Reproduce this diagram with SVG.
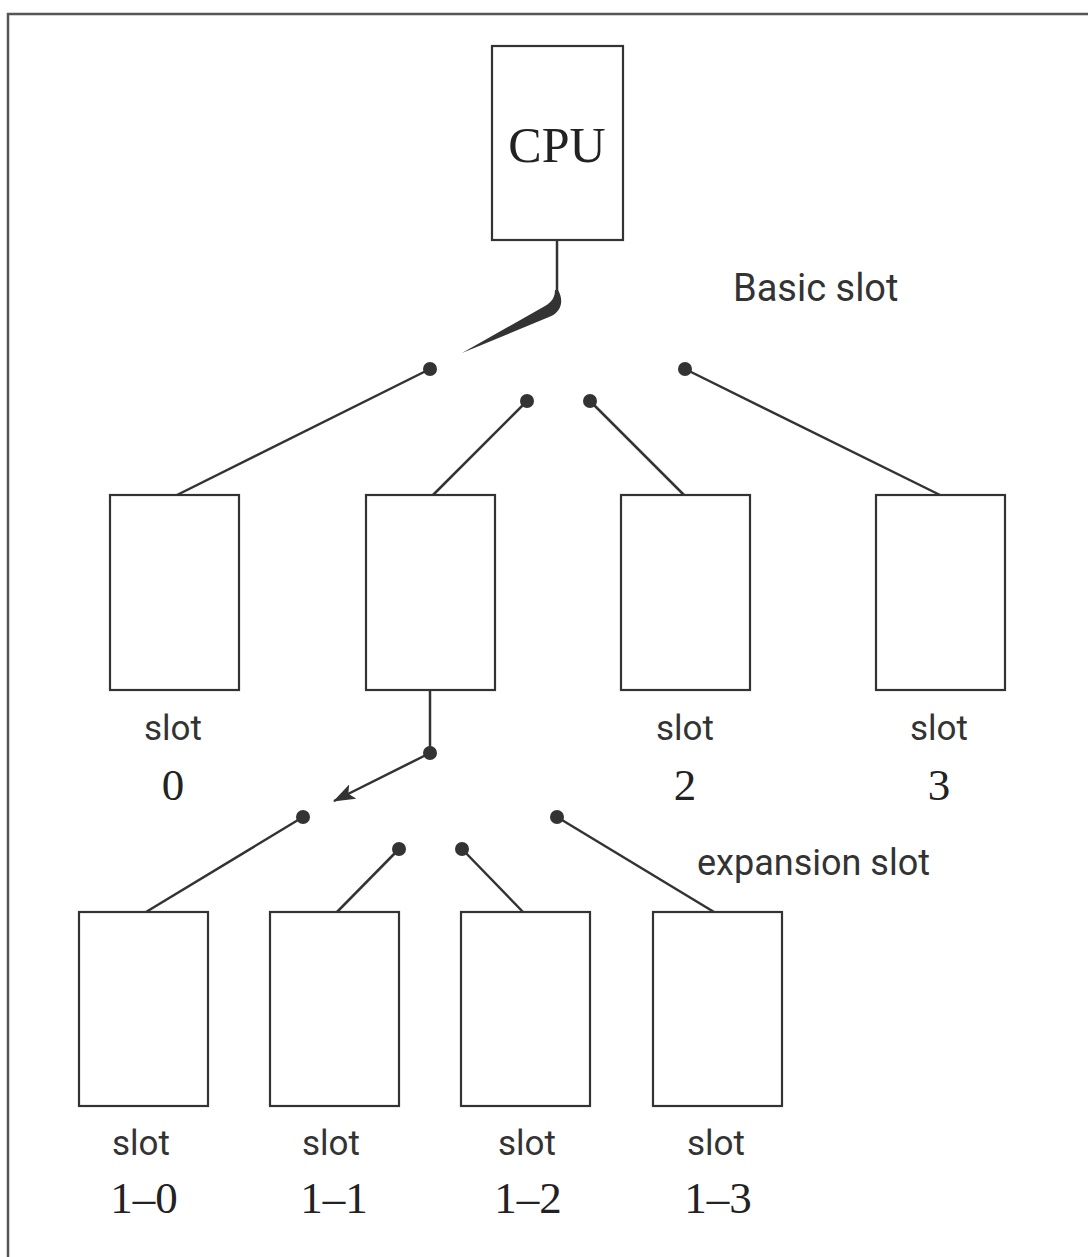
<svg xmlns="http://www.w3.org/2000/svg" width="1088" height="1257" viewBox="0 0 1088 1257">
<style>
.box{fill:#fff;stroke:#333;stroke-width:2.2}
.ln{stroke:#333;stroke-width:2.5;fill:none}
.dot{fill:#333}
.sans{font-family:Roboto,"Liberation Sans",sans-serif;fill:#333}
.ser{font-family:"Liberation Serif","DejaVu Serif",serif;fill:#222}
</style>
<defs>
<marker id="ah" markerWidth="22" markerHeight="16" refX="21" refY="8" orient="auto" markerUnits="userSpaceOnUse">
<path d="M0,0 L22,8 L0,16 L5,8 Z" fill="#333"/>
</marker>
</defs>
<rect x="0" y="0" width="1088" height="1257" fill="#fff"/>
<rect x="8" y="14" width="1100" height="1270" fill="none" stroke="#555" stroke-width="2.5"/>

<g id="connectors">
<line class="ln" x1="557" y1="240" x2="557" y2="300"/>
<path d="M558,290 C564,300 562,312 549,317 L462,353 L545,306 C552,302 555,297 555,290 Z" fill="#333"/>
<line class="ln" x1="430" y1="369" x2="177" y2="495"/>
<line class="ln" x1="527" y1="401" x2="433" y2="495"/>
<line class="ln" x1="590" y1="401" x2="684" y2="495"/>
<line class="ln" x1="685" y1="369" x2="940" y2="495"/>
<line class="ln" x1="430" y1="690" x2="430" y2="753"/>
<line class="ln" x1="430" y1="753" x2="334" y2="801" marker-end="url(#ah)"/>
<line class="ln" x1="303" y1="817" x2="146" y2="912"/>
<line class="ln" x1="399" y1="849" x2="337" y2="912"/>
<line class="ln" x1="462" y1="849" x2="523" y2="912"/>
<line class="ln" x1="557" y1="817" x2="714" y2="912"/>
<circle class="dot" cx="430" cy="369" r="7"/>
<circle class="dot" cx="527" cy="401" r="7"/>
<circle class="dot" cx="590" cy="401" r="7"/>
<circle class="dot" cx="685" cy="369" r="7"/>
<circle class="dot" cx="430" cy="753" r="7"/>
<circle class="dot" cx="303" cy="817" r="7"/>
<circle class="dot" cx="399" cy="849" r="7"/>
<circle class="dot" cx="462" cy="849" r="7"/>
<circle class="dot" cx="557" cy="817" r="7"/>
</g>

<g id="cpu">
<rect class="box" x="492" y="46" width="131" height="194"/>
<text class="ser" x="557" y="162" font-size="50" text-anchor="middle">CPU</text>
</g>
<text class="sans" x="733" y="301" font-size="38" fill="#555">Basic slot</text>
<text class="sans" x="697" y="875" font-size="36">expansion slot</text>

<g id="slot0">
<rect class="box" x="110" y="495" width="129" height="195"/>
<text class="sans" x="173" y="740" font-size="35" text-anchor="middle">slot</text>
<text class="ser" x="173" y="800" font-size="45" text-anchor="middle">0</text>
</g>
<g id="slot1">
<rect class="box" x="366" y="495" width="129" height="195"/>
</g>
<g id="slot2">
<rect class="box" x="621" y="495" width="129" height="195"/>
<text class="sans" x="685" y="740" font-size="35" text-anchor="middle">slot</text>
<text class="ser" x="685" y="800" font-size="45" text-anchor="middle">2</text>
</g>
<g id="slot3">
<rect class="box" x="876" y="495" width="129" height="195"/>
<text class="sans" x="939" y="740" font-size="35" text-anchor="middle">slot</text>
<text class="ser" x="939" y="800" font-size="45" text-anchor="middle">3</text>
</g>

<g id="slot1-0">
<rect class="box" x="79" y="912" width="129" height="194"/>
<text class="sans" x="141" y="1155" font-size="35" text-anchor="middle">slot</text>
<text class="ser" x="144" y="1213" font-size="45" text-anchor="middle">1–0</text>
</g>
<g id="slot1-1">
<rect class="box" x="270" y="912" width="129" height="194"/>
<text class="sans" x="331" y="1155" font-size="35" text-anchor="middle">slot</text>
<text class="ser" x="334" y="1213" font-size="45" text-anchor="middle">1–1</text>
</g>
<g id="slot1-2">
<rect class="box" x="461" y="912" width="129" height="194"/>
<text class="sans" x="527" y="1155" font-size="35" text-anchor="middle">slot</text>
<text class="ser" x="528" y="1213" font-size="45" text-anchor="middle">1–2</text>
</g>
<g id="slot1-3">
<rect class="box" x="653" y="912" width="129" height="194"/>
<text class="sans" x="716" y="1155" font-size="35" text-anchor="middle">slot</text>
<text class="ser" x="718" y="1213" font-size="45" text-anchor="middle">1–3</text>
</g>
</svg>
